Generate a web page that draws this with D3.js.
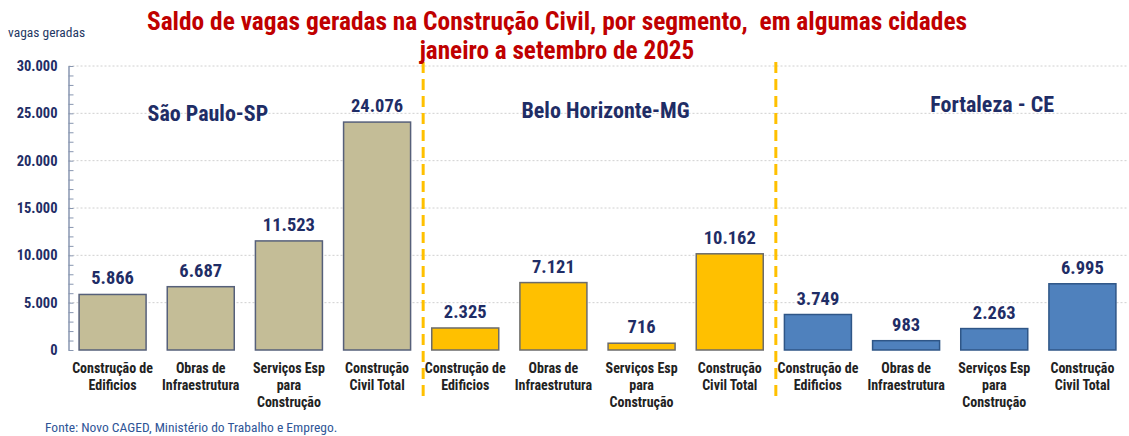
<!DOCTYPE html>
<html>
<head>
<meta charset="utf-8">
<script src="https://cdn.jsdelivr.net/npm/d3@7"></script>
<style>
  body { margin: 0; background: #fff; }
  svg { font-family: "Roboto Condensed", "Liberation Sans Narrow", sans-serif; }
</style>
</head>
<body>
<div id="chart"></div>
<script>
// data
const cities = ['São Paulo-SP', 'Belo Horizonte-MG', 'Fortaleza - CE'];
const segments = [
    ['Construção de', 'Edificios'],
    ['Obras de', 'Infraestrutura'],
    ['Serviços Esp', 'para', 'Construção'],
    ['Construção', 'Civil Total']
];
const spValues = [5866, 6687, 11523, 24076];
const bhValues = [2325, 7121, 716, 10162];
const ceValues = [3749, 983, 2263, 6995];
const yTicks = [0, 5000, 10000, 15000, 20000, 25000, 30000];

const cityFill = ['#C4BD97', '#FFC000', '#4F81BD'];
const cityStroke = ['#56607A', '#6B6B6B', '#2F5687'];

const title1 = 'Saldo de vagas geradas na Construção Civil, por segmento,  em algumas cidades';
const title2 = 'janeiro a setembro de 2025';
const source = 'Fonte: Novo CAGED, Ministério do Trabalho e Emprego.';

const width = 1129, height = 436;
const margin = {top: 66, left: 68.5, right: 2.5, bottom: 86};
const navy = '#1F2D66';

const ptBR = d3.formatLocale({decimal: ',', thousands: '.', grouping: [3], currency: ['R$', '']});
const fmt = ptBR.format(',d');

// flat table built from the arrays above
const rows = [];
[spValues, bhValues, ceValues].forEach((vals, ci) => {
    vals.forEach((v, si) => rows.push({key: ci + '-' + si, city: ci, seg: si, value: v}));
});

const svg = d3.select('#chart').append('svg')
    .attr('width', width)
    .attr('height', height);

const x = d3.scaleBand()
    .domain(rows.map(d => d.key))
    .range([margin.left, width - margin.right])
    .paddingInner(0.24)
    .paddingOuter(0.12);

const y = d3.scaleLinear()
    .domain([0, 30000])
    .range([height - margin.bottom, margin.top]);

// gridlines
svg.append('g').attr('class', 'grid')
    .selectAll('line')
    .data(yTicks.filter(d => d > 0))
    .join('line')
    .attr('x1', margin.left)
    .attr('x2', width - margin.right)
    .attr('y1', d => y(d))
    .attr('y2', d => y(d))
    .style('stroke', '#D0D0D0')
    .style('stroke-dasharray', '2,2')
    .style('stroke-width', 1);

// bars
svg.append('g').attr('class', 'bars')
    .selectAll('rect')
    .data(rows)
    .join('rect')
    .attr('x', d => x(d.key))
    .attr('width', x.bandwidth())
    .attr('y', d => y(d.value))
    .attr('height', d => y(0) - y(d.value))
    .style('fill', d => cityFill[d.city])
    .style('stroke', d => cityStroke[d.city])
    .style('stroke-width', 1.5);

// value labels
svg.append('g').attr('class', 'values')
    .selectAll('text')
    .data(rows)
    .join('text')
    .attr('x', d => x(d.key) + x.bandwidth() / 2)
    .attr('y', d => y(d.value) - 10)
    .style('text-anchor', 'middle')
    .style('font-weight', 'bold')
    .style('font-size', '18.5px')
    .style('fill', navy)
    .text(d => fmt(d.value));

// y axis: labels, then minor ticks every 1000 pointing inward
const yAxis = svg.append('g').attr('class', 'y-axis')
    .attr('transform', `translate(${margin.left},0)`)
    .call(d3.axisLeft(y).tickValues(yTicks).tickSize(0).tickPadding(11).tickFormat(fmt));
yAxis.select('.domain').style('stroke', '#8896B0').style('stroke-width', 1.5);
yAxis.selectAll('text')
    .style('font-family', '"Roboto Condensed", sans-serif')
    .style('font-size', '14.5px')
    .style('font-weight', 'bold')
    .style('fill', navy);

const minor = svg.append('g').attr('class', 'minor')
    .attr('transform', `translate(${margin.left},0)`)
    .call(d3.axisLeft(y).ticks(30).tickSize(-5).tickFormat(''));
minor.select('.domain').remove();
minor.selectAll('line').style('stroke', '#8896B0');

// category labels
const cat = svg.append('g').attr('class', 'x-labels')
    .selectAll('text')
    .data(rows)
    .join('text')
    .attr('x', d => x(d.key) + x.bandwidth() / 2)
    .attr('y', y(0) + 23)
    .style('text-anchor', 'middle')
    .style('font-weight', 'bold')
    .style('font-size', '14px')
    .style('fill', '#222');
cat.selectAll('tspan')
    .data(d => segments[d.seg].map(t => ({t, cx: x(d.key) + x.bandwidth() / 2})))
    .join('tspan')
    .attr('x', d => d.cx)
    .attr('dy', (d, i) => i === 0 ? 0 : 17)
    .text(d => d.t);

// dashed separators between cities
const sepKeys = ['1-0', '2-0'];
svg.append('g').attr('class', 'separators')
    .selectAll('line')
    .data(sepKeys)
    .join('line')
    .attr('x1', d => x(d) - x.step() * x.paddingInner() / 2 + 2)
    .attr('x2', d => x(d) - x.step() * x.paddingInner() / 2 + 2)
    .attr('y1', 62)
    .attr('y2', 402)
    .style('stroke', '#FFC000')
    .style('stroke-width', 3)
    .style('stroke-dasharray', '11,6');

// city names, nudged from the group centre as in the reference
const cityY = [121, 118, 112];
const cityShift = [-37, 8, 42];
svg.append('g').attr('class', 'cities')
    .selectAll('text')
    .data(cities)
    .join('text')
    .attr('x', (d, i) => {
        const a = x(i + '-0'), b = x(i + '-3') + x.bandwidth();
        return (a + b) / 2 + cityShift[i];
    })
    .attr('y', (d, i) => cityY[i])
    .style('text-anchor', 'middle')
    .style('font-weight', 'bold')
    .style('font-size', '22px')
    .style('fill', navy)
    .text(d => d);

// titles
svg.append('text')
    .attr('x', 557).attr('y', 30)
    .style('text-anchor', 'middle')
    .style('font-weight', 'bold')
    .style('font-size', '25.4px')
    .style('fill', '#C00000')
    .style('white-space', 'pre')
    .text(title1);
svg.append('text')
    .attr('x', 557).attr('y', 59)
    .style('text-anchor', 'middle')
    .style('font-weight', 'bold')
    .style('font-size', '25.2px')
    .style('fill', '#C00000')
    .text(title2);

svg.append('text')
    .attr('x', 8).attr('y', 37)
    .style('font-size', '13.5px')
    .style('fill', '#1F3864')
    .text('vagas geradas');

svg.append('text')
    .attr('x', 45).attr('y', 432)
    .style('font-size', '13.5px')
    .style('fill', '#2F5597')
    .text(source);
</script>
</body>
</html>
